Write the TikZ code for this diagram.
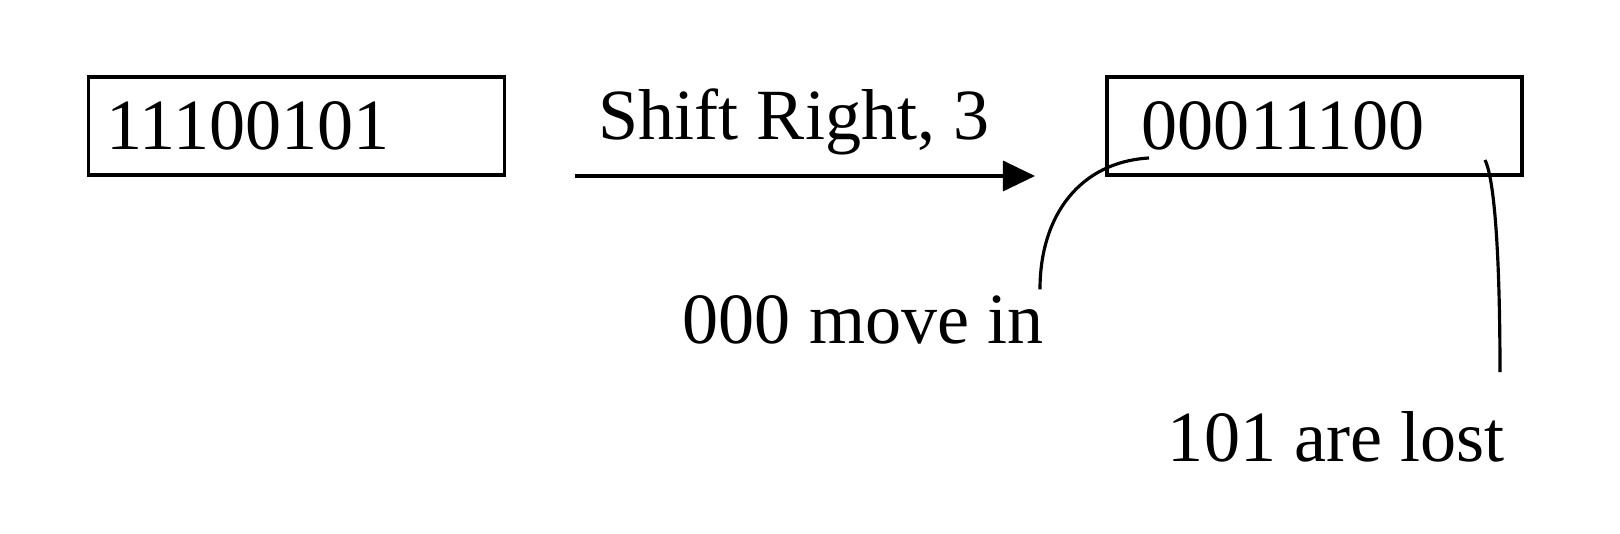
\documentclass[tikz,border=0pt]{standalone}
\usepackage{fontspec}
\setmainfont{Liberation Serif}
\usetikzlibrary{positioning, arrows.meta, calc}

\begin{document}
\begin{tikzpicture}[
  x=0.01cm, y=-0.01cm,
  reg/.style={draw, line width=1pt, minimum height=0.98cm, align=left,
              font=\fontsize{20.5}{24}\selectfont},
  lbl/.style={inner sep=0pt, font=\fontsize{20.5}{24}\selectfont},
  arr/.style={-{Triangle[length=0.32cm, width=0.3cm]}, line width=1pt},
  lead/.style={line width=0.9pt}
]
  \useasboundingbox (0,0) rectangle (1620,534);

  % Registers before and after
  \node[reg, text width=3.8cm, inner xsep=0.18cm] (before) at (296.5,126) {11100101};
  \node[reg, text width=3.45cm, inner xsep=0.35cm] (after) at (1314.5,126) {00011100};

  % Shift arrow
  \coordinate (shiftfrom) at (575,176);
  \coordinate (shiftto) at (1035,176);
  \draw[arr] (shiftfrom) -- (shiftto);
  \node[lbl, anchor=base] (shiftlbl) at (794,140) {Shift Right, 3};

  % Callouts
  \node[lbl, anchor=base east] (movein) at (1044,344) {000 move in};
  \node[lbl, anchor=base east] (lost) at (1505,462) {101 are lost};

  \coordinate (inlead) at (1149,158);
  \coordinate (outlead) at (1485,160);
  \draw[lead] (inlead) .. controls (1080,162) and ([xshift=-0.04cm, yshift=0.8cm]movein.north east)
    .. ([xshift=-0.04cm, yshift=0.06cm]movein.north east);
  \draw[lead] (outlead) .. controls (1495,180) and ([xshift=-0.05cm, yshift=1.5cm]lost.north east)
    .. ([xshift=-0.05cm, yshift=0.39cm]lost.north east);
\end{tikzpicture}
\end{document}
